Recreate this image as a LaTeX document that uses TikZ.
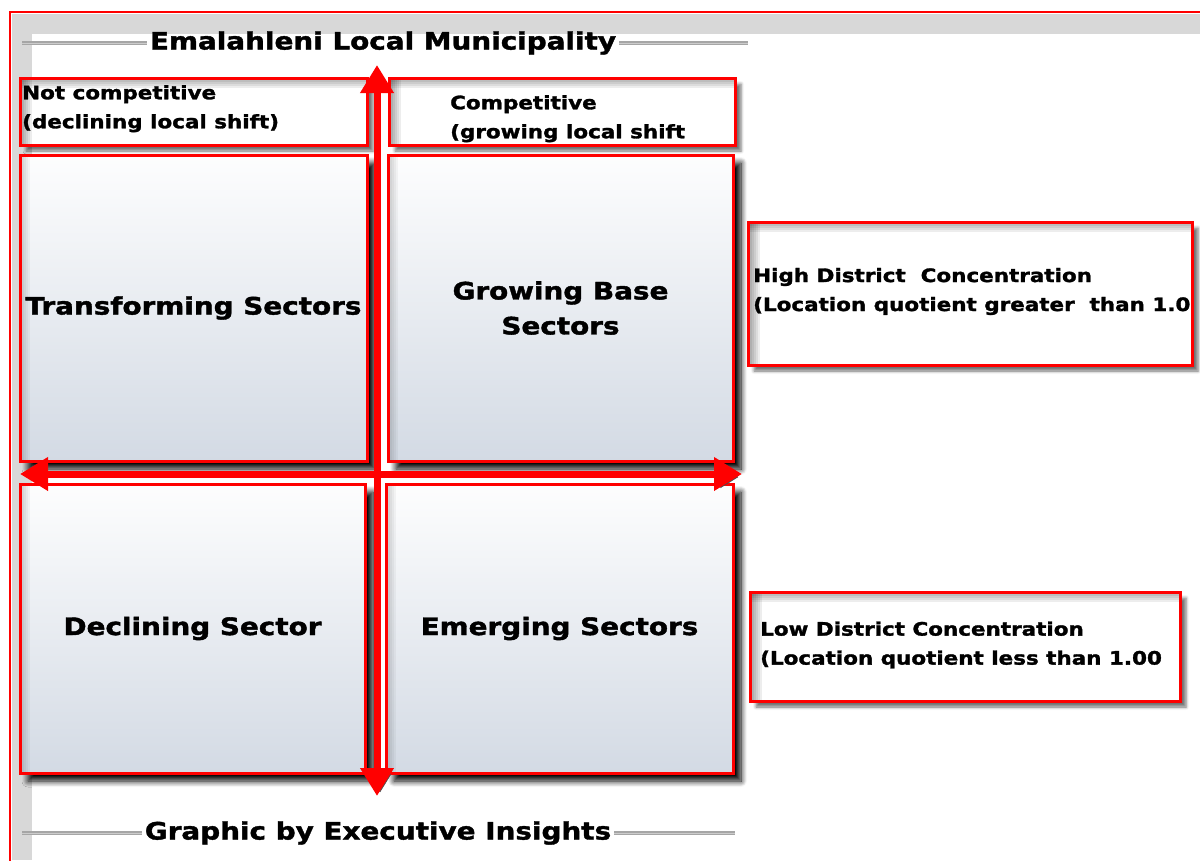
\documentclass[tikz,border=0pt]{standalone}
\usepackage{fontspec}
\setmainfont{DejaVu Sans}[FakeStretch=1.16, BoldFeatures={FakeBold=1.6}]
\usetikzlibrary{arrows.meta,positioning,shadows.blur,calc}

\definecolor{frred}{RGB}{255,0,0}
\definecolor{quadlow}{RGB}{211,218,228}
\definecolor{bandgray}{RGB}{216,216,216}

\begin{document}
\begin{tikzpicture}[x=1pt, y=-1pt,
    leftinset/.style={path picture={
        \foreach \w in {2,4,6,8,10}
          \fill[black, opacity=#1] (path picture bounding box.south west)
            rectangle ([xshift=\w pt]path picture bounding box.north west);}},
    topinset/.style={path picture={
        \foreach \w in {2,4,6,8,10,12}
          \fill[black, opacity=#1] (path picture bounding box.south west)
            rectangle ([xshift=\w pt]path picture bounding box.north west);
        \foreach \w in {2,4,6,8,10}
          \fill[black, opacity=#1] (path picture bounding box.north west)
            rectangle ([yshift=-\w pt]path picture bounding box.north east);}},
    quad/.style 2 args={draw=frred, line width=3pt, top color=white!96!quadlow, bottom color=quadlow,
        minimum width=#1, minimum height=#2, inner sep=0pt, leftinset=0.04,
        blur shadow={shadow xshift=8pt, shadow yshift=-8pt, shadow blur steps=10, shadow blur radius=6pt, shadow opacity=100}},
    tag/.style 2 args={draw=frred, line width=3pt, fill=white,
        minimum width=#1, minimum height=#2, inner sep=0pt, topinset=0.07,
        blur shadow={shadow xshift=6pt, shadow yshift=-6pt, shadow blur steps=4, shadow blur radius=3pt, shadow opacity=55}},
    bigtxt/.style={font=\fontsize{24}{35}\selectfont\bfseries, align=center},
    smalltxt/.style={font=\fontsize{18.5}{29}\selectfont\bfseries, align=left, inner sep=0pt},
    headtxt/.style={font=\fontsize{24}{28}\selectfont\bfseries, inner sep=3pt},
    axisarr/.style={{Triangle[length=28pt,width=32pt]}-{Triangle[length=28pt,width=32pt]},
        draw=frred, line width=7pt,
        preaction={draw=black!70, transform canvas={xshift=3pt, yshift=-3pt}}},
    rule/.style={draw=gray!70, line width=1.5pt, double=gray!40, double distance=1pt}
]
\useasboundingbox (0,0) rectangle (1200,860);

% frame and grey bands
\fill[bandgray] (12,14) rectangle (1200,34);
\fill[bandgray] (12,14) rectangle (32,860);
\draw[frred, line width=2.5pt] (1210,12) -- (10,12) -- (10,870);

% header and footer
\node[headtxt] (title) at (383,43) {Emalahleni Local Municipality};
\coordinate (tl1) at (22,43);
\coordinate (tr1) at (748,43);
\draw[rule] (tl1) -- (title.west);
\draw[rule] (title.east) -- (tr1);

\node[headtxt] (credit) at (378,833) {Graphic by Executive Insights};
\coordinate (bl1) at (22,833);
\coordinate (br1) at (735,833);
\draw[rule] (bl1) -- (credit.west);
\draw[rule] (credit.east) -- (br1);

% top tags
\node[tag={347pt}{67pt}] (notcomp) at (193.5,111.5) {};
\node[tag={346pt}{67pt}] (comp) at (562,111.5) {};
\node[smalltxt, anchor=north west] at (22,85) {Not competitive\\(declining local shift)};
\node[smalltxt, anchor=north west] at (450,95) {Competitive\\(growing local shift};

% quadrants
\node[quad={347pt}{306pt}, bigtxt] (transf) at (193.5,308) {Transforming Sectors};
\node[quad={345pt}{306pt}, bigtxt] (growb) at (560.5,308) {Growing Base\\Sectors};
\node[quad={345pt}{289pt}, bigtxt] (declin) at (192.5,628.5) {Declining Sector};
\node[quad={347pt}{289pt}, bigtxt] (emerg) at (559.5,628.5) {Emerging Sectors};

% side tags
\node[tag={444pt}{143pt}] (high) at (970,293.5) {};
\node[tag={430pt}{109pt}] (low) at (965,646.5) {};
\node[smalltxt, anchor=west] at (753,291.5) {High District\ \ Concentration\\(Location quotient greater\ \ than 1.0};
\node[smalltxt, anchor=west] at (760,645) {Low District Concentration\\(Location quotient less than 1.00};

% axes
\coordinate (vtop) at (377,65);
\coordinate (vbot) at (377,796);
\coordinate (hlft) at (20,474);
\coordinate (hrgt) at (742,474);
\draw[axisarr] (vtop) -- (vbot);
\draw[axisarr] (hlft) -- (hrgt);
\end{tikzpicture}
\end{document}
